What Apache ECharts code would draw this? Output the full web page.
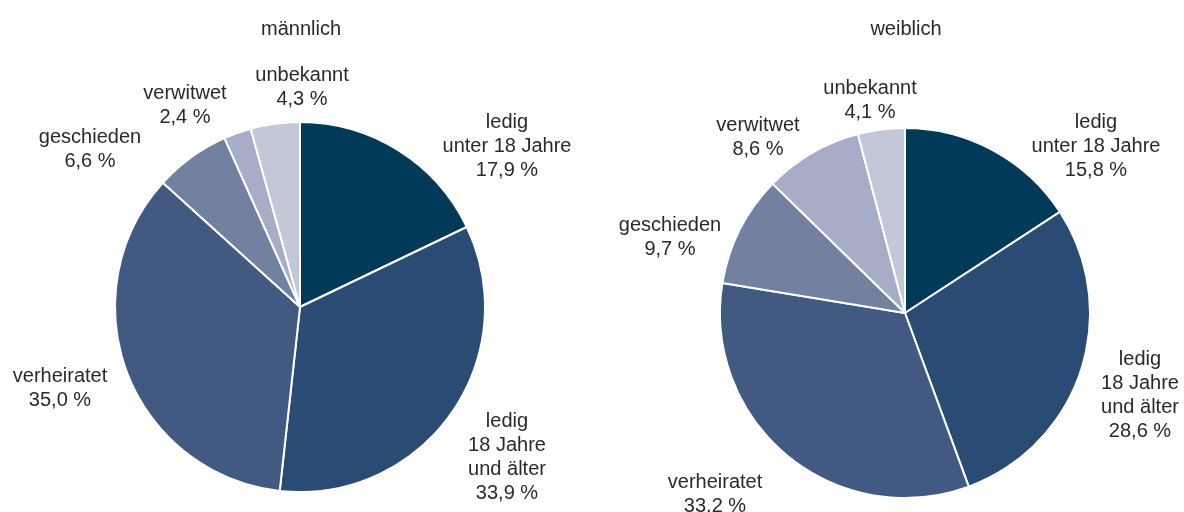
<!DOCTYPE html>
<html><head><meta charset="utf-8">
<script src="https://cdn.jsdelivr.net/npm/echarts@6/dist/echarts.min.js"></script>
<style>html,body{margin:0;padding:0;background:#fff}#c{width:1184px;height:512px}</style>
</head><body><div id="c"></div>
<script>
const categories = ['ledig\nunter 18 Jahre', 'ledig\n18 Jahre\nund älter', 'verheiratet', 'geschieden', 'verwitwet', 'unbekannt'];
const maleValues = [17.9, 33.9, 35.0, 6.6, 2.4, 4.3];
const femaleValues = [15.8, 28.6, 33.2, 9.7, 8.6, 4.1];
const titles = ['männlich', 'weiblich'];

const colors = ['#013a59', '#2a4b73', '#425a81', '#72819f', '#a8adc7', '#c3c8d8'];
const centers = [[300, 307], [905, 313]];
const radius = 185;
// label block centers relative to pie center (layout only)
const labelOffsets = [
  [[207, -161], [207, 150], [-240, 81], [-210, -158], [-115, -202], [2, -220]],
  [[191, -167], [235, 82], [-190, 181], [-235, -76], [-147, -176], [-35, -213]]
];
const fontFamily = "'Liberation Sans', Arial, sans-serif";
const fmt = v => v.toFixed(1).replace('.', ',') + ' %';

function makeSeries(values, idx) {
  return {
    type: 'pie',
    center: centers[idx],
    radius: radius,
    startAngle: 90,
    clockwise: true,
    animation: false,
    silent: true,
    itemStyle: { borderColor: '#fff', borderWidth: 2 },
    label: {
      show: true,
      position: 'outside',
      overflow: 'none',
      color: '#2a2a2a',
      fontFamily: fontFamily,
      fontSize: 20,
      lineHeight: 24,
      align: 'center',
      formatter: p => p.name + '\n' + fmt(p.value)
    },
    labelLine: { show: false },
    labelLayout: function (params) {
      const o = labelOffsets[idx][params.dataIndex];
      return { x: centers[idx][0] + o[0], y: centers[idx][1] + o[1], align: 'center', verticalAlign: 'middle' };
    },
    data: values.map((v, i) => ({ name: categories[i], value: v, itemStyle: { color: colors[i] } }))
  };
}

const chart = echarts.init(document.getElementById('c'));
chart.setOption({
  backgroundColor: '#fff',
  title: titles.map((t, i) => ({
    text: t, left: centers[i][0] - 4, top: 14, textAlign: 'center',
    textStyle: { fontFamily: fontFamily, fontSize: 20, fontWeight: 'normal', color: '#2a2a2a' }
  })),
  series: [makeSeries(maleValues, 0), makeSeries(femaleValues, 1)]
});
</script></body></html>
